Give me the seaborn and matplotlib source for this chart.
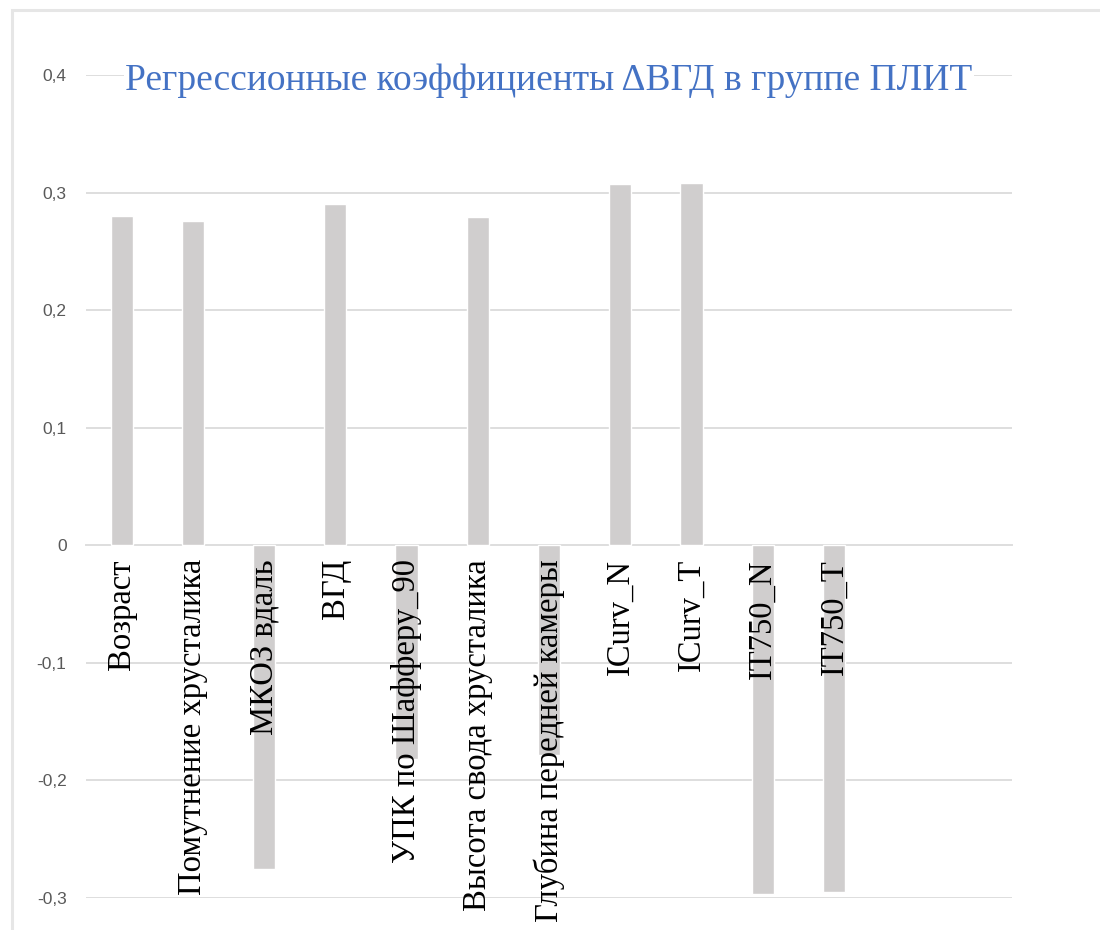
import matplotlib
matplotlib.use("Agg")
import matplotlib.pyplot as plt
from matplotlib.patches import Rectangle
from matplotlib.transforms import blended_transform_factory
import seaborn as sns
import pandas as pd

# Regression coefficients of ΔВГД for the ПЛИТ group
categories = [
    "Возраст",
    "Помутнение хрусталика",
    "МКОЗ вдаль",
    "ВГД",
    "УПК по Шафферу_90",
    "Высота свода хрусталика",
    "Глубина передней камеры",
    "ICurv_N",
    "ICurv_T",
    "IT750_N",
    "IT750_T",
]
coefficients = [0.280, 0.276, -0.275, 0.290, -0.182, 0.279, -0.178,
                0.307, 0.308, -0.297, -0.295]
y_ticks = [-0.3, -0.2, -0.1, 0.0, 0.1, 0.2, 0.3, 0.4]
y_tick_labels = ["-0,3", "-0,2", "-0,1", "0", "0,1", "0,2", "0,3", "0,4"]
title = "Регрессионные коэффициенты ΔВГД в группе ПЛИТ"

df = pd.DataFrame({"Показатель": categories, "Коэффициент": coefficients})

sns.set_theme(style="white")
plt.rcParams["font.family"] = ["Liberation Serif", "DejaVu Serif"]

fig = plt.figure(figsize=(11, 9.3), dpi=100)
fig.patch.set_facecolor("white")

# Chart frame
fig.patches.append(Rectangle((12 / 1100, -0.2), 1.2, 1.2 - 10 / 930,
                             transform=fig.transFigure, fill=False,
                             edgecolor="#e6e6e6", linewidth=2.2, zorder=0))

ax = fig.add_axes([86 / 1100, 1 - 898 / 930, 926 / 1100, (898 - 75) / 930])

sns.barplot(data=df, x="Показатель", y="Коэффициент", order=categories,
            color="#d0cece", saturation=1, width=0.31, ax=ax, zorder=2)

ax.set_xlim(-0.5, 12.5)
ax.set_ylim(-0.3, 0.4)
ax.set_yticks(y_ticks)
ax.set_yticklabels(y_tick_labels, family=["Liberation Sans", "DejaVu Sans"],
                   fontsize=12.5, color="#595959")
ax.tick_params(axis="y", length=0, pad=14)

ax.grid(axis="y", color="#dedede", linewidth=1.4, zorder=0)
ax.set_axisbelow(True)
for side in ["top", "right", "left"]:
    ax.spines[side].set_visible(False)
ax.spines["bottom"].set_position(("data", 0))
ax.spines["bottom"].set_color("#dedede")
ax.spines["bottom"].set_linewidth(1.4)
ax.spines["bottom"].set_zorder(1)

# Category labels sit at the zero line and are drawn over the bars
ax.set_xticks(range(len(categories)))
ax.set_xticklabels(categories, rotation=90, fontsize=23.5, color="black")
ax.tick_params(axis="x", length=0, pad=10)
ax.xaxis.set_zorder(5)
ax.set_xlabel("")
ax.set_ylabel("")
ax.patch.set_alpha(0)

ax.annotate(title, xy=(0.5, 0.4),
            xycoords=blended_transform_factory(ax.transAxes, ax.transData),
            xytext=(0, -11), textcoords="offset points",
            ha="center", va="baseline", fontsize=27, color="#4472c4",
            bbox=dict(facecolor="white", edgecolor="none", pad=1), zorder=6)

fig.savefig("out.png", dpi=100)
